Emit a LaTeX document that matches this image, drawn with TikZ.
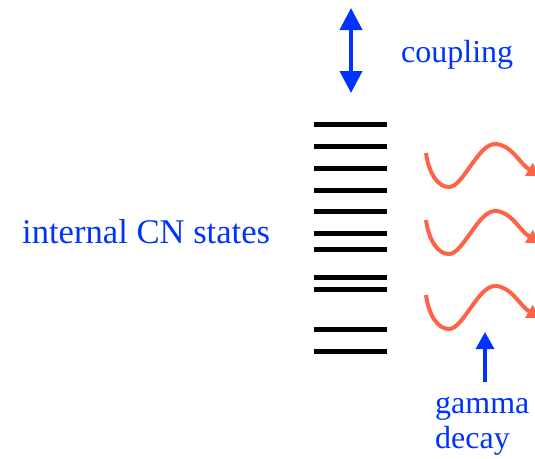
\documentclass[tikz,border=0pt]{standalone}
\usepackage{fontspec}
\setmainfont{Liberation Serif}
\usetikzlibrary{arrows.meta}
\definecolor{labelblue}{RGB}{0,51,255}
\definecolor{wavered}{RGB}{255,99,71}
\tikzset{
  level/.style={line width=5pt, black},
  wave/.style={line width=4pt, wavered, -{Triangle[length=13pt,width=14pt]}},
  lbl/.style={text=labelblue, inner sep=0pt, anchor=base west},
}
\begin{document}
\begin{tikzpicture}[x=1pt,y=-1pt]
\useasboundingbox (0,0) rectangle (535,458);
% energy levels
\foreach \y [count=\i] in {124.7,146,168,190,211,233,249,277,289,329,351}{
  \coordinate (la\i) at (314,\y);
  \coordinate (lb\i) at (387,\y);
  \draw[level] (la\i) -- (lb\i);
}
% coupling arrow
\coordinate (ct) at (351,8);
\coordinate (cb) at (351,93);
\draw[labelblue, line width=4pt, {Triangle[length=22pt,width=22pt]}-{Triangle[length=22pt,width=22pt]}] (ct) -- (cb);
\node[lbl, font=\fontsize{32}{36}\selectfont] (coup) at (401,62) {coupling};
% label left
\node[lbl, font=\fontsize{34.6}{38}\selectfont] (cn) at (22,243) {internal CN states};
% gamma waves
\foreach \d [count=\k] in {0,67,142}{
  \coordinate (ws\k) at (426,153+\d);
  \coordinate (wt\k) at (449,187+\d);
  \coordinate (wc\k) at (495,144+\d);
  \coordinate (we\k) at (540,176+\d);
  \draw[wave] (ws\k) .. controls (429,174+\d) and (438,187+\d) .. (wt\k)
    .. controls (463,187+\d) and (478,144+\d) .. (wc\k)
    .. controls (511,144+\d) and (520,164+\d) .. (we\k);
}
% gamma decay arrow
\coordinate (gb) at (485,382);
\coordinate (gt) at (485,332);
\draw[labelblue, line width=3.2pt, -{Triangle[length=17pt,width=18pt]}] (gb) -- (gt);
\node[lbl, font=\fontsize{32}{36}\selectfont] (gam) at (435,413) {gamma};
\node[lbl, font=\fontsize{32}{36}\selectfont] (dec) at (435,448) {decay};
\end{tikzpicture}
\end{document}
